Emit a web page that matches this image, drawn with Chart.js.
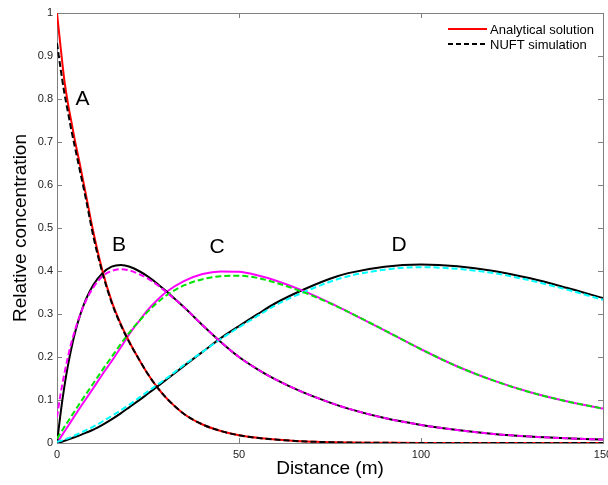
<!DOCTYPE html>
<html>
<head>
<meta charset="utf-8">
<script src="https://cdn.jsdelivr.net/npm/chart.js@4/dist/chart.umd.min.js"></script>
<style>
html,body{margin:0;padding:0;background:#fff;}
#wrap{width:608px;height:485px;position:relative;}
</style>
</head>
<body>
<div id="wrap"><canvas id="c" width="608" height="485"></canvas></div>
<script>
// Distance grid (m)
const distance = [0,1,2,3,4,5,6,8,10,12.5,15,17.5,20,22.5,25,27.5,30,35,40,45,50,55,60,67,75,80,90,100,110,120,130,140,150];

// Curve A
const analyticalA = [1.0,0.92,0.845,0.79,0.745,0.70,0.66,0.575,0.49,0.40,0.33,0.277,0.233,0.195,0.16,0.13,0.105,0.067,0.043,0.028,0.018,0.012,0.008,0.004,0.002,0.001,0.0005,0,0,0,0,0,0];
const nuftA       = [0.93,0.87,0.815,0.77,0.725,0.685,0.645,0.565,0.48,0.395,0.327,0.275,0.232,0.195,0.16,0.13,0.105,0.067,0.043,0.028,0.018,0.012,0.008,0.004,0.002,0.001,0.0005,0,0,0,0,0,0];
// Curve B
const analyticalB = [0,0.07,0.13,0.18,0.222,0.258,0.288,0.335,0.368,0.395,0.41,0.414,0.41,0.40,0.387,0.371,0.353,0.315,0.274,0.235,0.20,0.172,0.148,0.12,0.094,0.08,0.058,0.042,0.03,0.021,0.015,0.011,0.008];
const nuftB       = [0.06,0.115,0.16,0.20,0.235,0.264,0.29,0.332,0.362,0.388,0.40,0.404,0.401,0.393,0.382,0.368,0.351,0.315,0.274,0.235,0.20,0.172,0.148,0.12,0.094,0.08,0.058,0.042,0.03,0.021,0.015,0.011,0.008];
// Curve C
const analyticalC = [0,0.013,0.026,0.039,0.052,0.065,0.078,0.103,0.128,0.16,0.19,0.222,0.255,0.283,0.31,0.332,0.351,0.377,0.393,0.399,0.398,0.39,0.378,0.356,0.326,0.305,0.262,0.218,0.178,0.145,0.118,0.097,0.08];
const nuftC       = [0.01,0.023,0.037,0.05,0.063,0.076,0.089,0.114,0.139,0.17,0.2,0.23,0.258,0.283,0.306,0.326,0.343,0.367,0.381,0.388,0.389,0.384,0.373,0.353,0.325,0.305,0.262,0.218,0.178,0.145,0.118,0.097,0.08];
// Curve D
const analyticalD = [0,0.002,0.005,0.008,0.011,0.014,0.017,0.024,0.031,0.042,0.055,0.069,0.084,0.099,0.115,0.131,0.147,0.18,0.212,0.244,0.272,0.299,0.325,0.354,0.382,0.395,0.41,0.415,0.411,0.4,0.383,0.361,0.337];
const nuftD       = [0.003,0.005,0.008,0.011,0.014,0.018,0.022,0.03,0.038,0.05,0.063,0.076,0.09,0.105,0.12,0.135,0.15,0.182,0.212,0.242,0.269,0.295,0.32,0.348,0.375,0.388,0.403,0.409,0.405,0.395,0.378,0.357,0.333];

const xTicks = [0,50,100,150];
const yTicks = [0,0.1,0.2,0.3,0.4,0.5,0.6,0.7,0.8,0.9,1];
const legendLabels = ['Analytical solution','NUFT simulation'];
const curveLabels = ['A','B','C','D'];
const curveLabelPos = [[7,0.8],[17,0.46],[44,0.455],[94,0.46]];

const FONT = '"Liberation Sans", Arial, Helvetica, sans-serif';
const pts = arr => distance.map((x,i)=>({x:x,y:arr[i]}));
const dash = [6,3];
function ds(label, arr, color, dashed){
  return {label:label, data:pts(arr), borderColor:color, backgroundColor:color,
    borderWidth:2, pointRadius:0, fill:false, cubicInterpolationMode:'monotone',
    borderDash: dashed?dash:[]};
}
// first datasets drawn on top
const datasets = [
  ds('NUFT A', nuftA, '#000000', true),
  ds('NUFT B', nuftB, '#ff00ff', true),
  ds('NUFT C', nuftC, '#00e400', true),
  ds('NUFT D', nuftD, '#00ffff', true),
  ds('Analytical A', analyticalA, '#ff0000', false),
  ds('Analytical B', analyticalB, '#000000', false),
  ds('Analytical C', analyticalC, '#ff00ff', false),
  ds('Analytical D', analyticalD, '#000000', false)
];

const boxPlugin = {
  id:'box',
  beforeDatasetsDraw(chart){
    const {ctx, chartArea:a, scales} = chart;
    ctx.save();
    ctx.strokeStyle = '#808080';
    ctx.lineWidth = 1;
    ctx.strokeRect(Math.round(a.left)+0.5, Math.round(a.top)+0.5, Math.round(a.right-a.left), Math.round(a.bottom-a.top));
    ctx.beginPath();
    const L=5;
    xTicks.forEach(v=>{
      const x = Math.round(scales.x.getPixelForValue(v))+0.5;
      ctx.moveTo(x,a.bottom); ctx.lineTo(x,a.bottom-L);
      ctx.moveTo(x,a.top); ctx.lineTo(x,a.top+L);
    });
    yTicks.forEach(v=>{
      const y = Math.round(scales.y.getPixelForValue(v))+0.5;
      ctx.moveTo(a.left,y); ctx.lineTo(a.left+L,y);
      ctx.moveTo(a.right,y); ctx.lineTo(a.right-L,y);
    });
    ctx.stroke();
    ctx.restore();
  },
  afterDatasetsDraw(chart){
    const {ctx, chartArea:a, scales} = chart;
    ctx.save();
    ctx.fillStyle = '#000';
    ctx.font = '21px ' + FONT;
    ctx.textAlign = 'center';
    ctx.textBaseline = 'middle';
    curveLabels.forEach((t,i)=>{
      ctx.fillText(t, scales.x.getPixelForValue(curveLabelPos[i][0]), scales.y.getPixelForValue(curveLabelPos[i][1]));
    });
    const lx1 = a.right-155, lx2 = a.right-116, tx = a.right-113;
    const ly = [a.top+16, a.top+31];
    ctx.lineWidth = 2;
    ctx.strokeStyle = '#ff0000';
    ctx.setLineDash([]);
    ctx.beginPath(); ctx.moveTo(lx1,ly[0]); ctx.lineTo(lx2,ly[0]); ctx.stroke();
    ctx.strokeStyle = '#000';
    ctx.setLineDash([5,3]);
    ctx.beginPath(); ctx.moveTo(lx1,ly[1]); ctx.lineTo(lx2,ly[1]); ctx.stroke();
    ctx.setLineDash([]);
    ctx.font = '13px ' + FONT;
    ctx.textAlign = 'left';
    ctx.fillStyle = '#000';
    legendLabels.forEach((t,i)=>ctx.fillText(t, tx, ly[i]+1));
    ctx.restore();
  }
};

new Chart(document.getElementById('c'), {
  type:'line',
  data:{datasets:datasets},
  options:{
    responsive:false,
    animation:false,
    layout:{padding:{left:0,right:5,top:13,bottom:0}},
    plugins:{legend:{display:false}, tooltip:{enabled:false}},
    scales:{
      x:{
        type:'linear', min:0, max:150,
        afterBuildTicks(s){ s.ticks = xTicks.map(v=>({value:v})); },
        afterFit(s){ s.height = 42; s.paddingLeft = 0; s.paddingRight = 0; },
        grid:{display:false, drawTicks:false},
        border:{display:false},
        ticks:{color:'#222', font:{family:FONT,size:11}, padding:5, maxRotation:0, autoSkip:false},
        title:{display:true, text:'Distance (m)', color:'#000', font:{family:FONT,size:19}, padding:{top:0,bottom:5}}
      },
      y:{
        type:'linear', min:0, max:1,
        afterBuildTicks(s){ s.ticks = yTicks.map(v=>({value:v})); },
        afterFit(s){ s.width = 57; s.paddingTop = 0; s.paddingBottom = 0; },
        grid:{display:false, drawTicks:false},
        border:{display:false},
        ticks:{color:'#222', font:{family:FONT,size:11}, padding:4, autoSkip:false,
          callback:v=>String(Math.round(v*10)/10)},
        title:{display:true, text:'Relative concentration', color:'#000', font:{family:FONT,size:19}, padding:{top:9,bottom:0}}
      }
    }
  },
  plugins:[boxPlugin]
});
</script>
</body>
</html>
